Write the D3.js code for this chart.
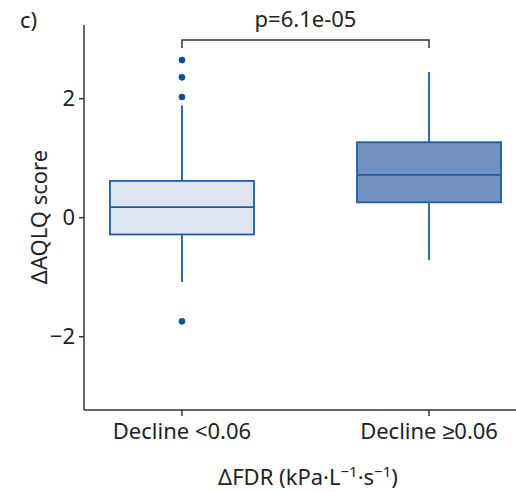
<html>
  <head>
    <style>
      body { margin: 0; background: #fff; }
      text { font-family: "Noto Sans", sans-serif; }
    </style>
    <script src="https://cdn.jsdelivr.net/npm/d3@7"></script>
  </head>
  <body>
    <svg id="container" height="492" width="516"></svg>
    <script>
      // groups and box statistics
      const groups = ["Decline <0.06", "Decline \u22650.06"];
      const q1 = [-0.29, 0.25];
      const median = [0.17, 0.71];
      const q3 = [0.61, 1.26];
      const whiskerLow = [-1.09, -0.72];
      const whiskerHigh = [1.88, 2.44];
      const outliers = [[2.64, 2.35, 2.02, -1.75], []];
      const fills = ["#dfe4f1", "#7191c1"];
      const yTicks = [-2, 0, 2];
      const pLabel = "p=6.1e-05";

      const svg = d3.select("#container");
      const plotLeft = 84, plotTop = 25, plotBottom = 410;
      const fs = 22;

      const x = d3.scaleBand().domain(groups).range([plotLeft, 527]).paddingInner(0.417).paddingOuter(0.105);
      const y = d3.scaleLinear().domain([-3.24, 3.23]).range([plotBottom, plotTop]);

      const boxes = groups.map((g, i) => ({
        g, q1: q1[i], med: median[i], q3: q3[i], lo: whiskerLow[i], hi: whiskerHigh[i], out: outliers[i], fill: fills[i]
      }));

      const blue = "#1c5ea3";
      const grp = svg.selectAll("g.box").data(boxes).enter().append("g").attr("class", "box");
      const cx = d => x(d.g) + x.bandwidth() / 2;

      grp.append("line")
        .attr("x1", cx).attr("x2", cx)
        .attr("y1", d => y(d.hi)).attr("y2", d => y(d.lo))
        .attr("stroke", blue).attr("stroke-width", 1.8);
      grp.append("rect")
        .attr("x", d => x(d.g)).attr("width", x.bandwidth())
        .attr("y", d => y(d.q3)).attr("height", d => y(d.q1) - y(d.q3))
        .attr("fill", d => d.fill).attr("stroke", blue).attr("stroke-width", 1.8);
      grp.append("line")
        .attr("x1", d => x(d.g)).attr("x2", d => x(d.g) + x.bandwidth())
        .attr("y1", d => y(d.med)).attr("y2", d => y(d.med))
        .attr("stroke", blue).attr("stroke-width", 1.8);
      grp.selectAll("circle").data(d => d.out.map(v => ({ g: d.g, v }))).enter().append("circle")
        .attr("cx", cx).attr("cy", d => y(d.v)).attr("r", 3.3).attr("fill", "#0b4f98");

      // axes
      const axisColor = "#333";
      const yAxis = svg.append("g").attr("transform", `translate(${plotLeft},0)`)
        .call(d3.axisLeft(y).tickValues(yTicks).tickSize(5).tickPadding(4).tickFormat(d => d < 0 ? "\u2212" + Math.abs(d) : d));
      yAxis.select(".domain").attr("d", `M0,${plotTop}V${plotBottom}`);
      const xAxis = svg.append("g").attr("transform", `translate(0,${plotBottom})`)
        .call(d3.axisBottom(x).tickSize(6).tickPadding(7));
      xAxis.select(".domain").attr("d", `M${plotLeft},0H516`);
      [yAxis, xAxis].forEach(a => {
        a.selectAll("path, line").attr("stroke", axisColor).attr("stroke-width", 1.5);
        a.selectAll("text").attr("fill", "#222").attr("font-size", fs).attr("font-family", "Noto Sans, sans-serif");
      });

      // significance bracket
      const bx1 = cx(boxes[0]), bx2 = cx(boxes[1]), by = 40;
      svg.append("path")
        .attr("d", `M${bx1},${by + 8}V${by}H${bx2}V${by + 8}`)
        .attr("fill", "none").attr("stroke", axisColor).attr("stroke-width", 1.5);
      svg.append("text").attr("x", (bx1 + bx2) / 2).attr("y", 27).attr("text-anchor", "middle")
        .attr("font-size", fs).attr("fill", "#222").text(pLabel);

      svg.append("text").attr("x", 20).attr("y", 28).attr("font-size", fs).attr("fill", "#222").text("c)");

      svg.append("text").attr("transform", `translate(47,217) rotate(-90)`).attr("text-anchor", "middle")
        .attr("font-size", fs).attr("fill", "#222").text("\u0394AQLQ score");

      const xl = svg.append("text").attr("x", 308).attr("y", 485).attr("text-anchor", "middle")
        .attr("font-size", fs).attr("fill", "#222");
      xl.append("tspan").text("\u0394FDR (kPa\u00b7L");
      xl.append("tspan").attr("dy", -8).attr("font-size", 15).text("\u22121");
      xl.append("tspan").attr("dy", 8).text("\u00b7s");
      xl.append("tspan").attr("dy", -8).attr("font-size", 15).text("\u22121");
      xl.append("tspan").attr("dy", 8).text(")");
    </script>
  </body>
</html>
